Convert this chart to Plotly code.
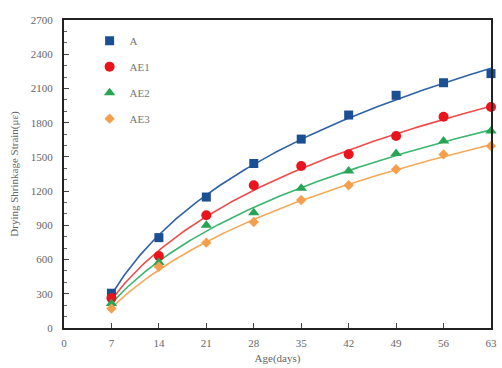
import numpy as np
import plotly.graph_objects as go

age_days = [7, 14, 21, 28, 35, 42, 49, 56, 63]
series_names = ["A", "AE1", "AE2", "AE3"]
strain_A = [305, 792, 1148, 1442, 1656, 1867, 2040, 2150, 2230]
strain_AE1 = [262, 631, 988, 1251, 1420, 1523, 1683, 1852, 1937]
strain_AE2 = [215, 575, 900, 1011, 1225, 1376, 1530, 1640, 1727]
strain_AE3 = [170, 537, 748, 929, 1122, 1251, 1392, 1522, 1595]
x_ticks = [0, 7, 14, 21, 28, 35, 42, 49, 56, 63]
y_ticks = [0, 300, 600, 900, 1200, 1500, 1800, 2100, 2400, 2700]

values = [strain_A, strain_AE1, strain_AE2, strain_AE3]
marker_colors = ["#1b4f93", "#e8141e", "#27a555", "#f2a04e"]
line_colors = ["#2f63a6", "#ef4b4b", "#3cb56e", "#f4aa5c"]
symbols = ["square", "circle", "triangle-up", "diamond"]
sizes = [9, 10, 10, 8]

fig = go.Figure()
t = np.array(age_days, dtype=float)
tt = np.linspace(7, 63, 200)
for name, v, mc, lc, sym, sz in zip(series_names, values, marker_colors, line_colors, symbols, sizes):
    coef = np.polyfit(np.log(t), np.array(v, dtype=float), 2)
    fig.add_trace(go.Scatter(x=tt, y=np.polyval(coef, np.log(tt)), mode="lines",
                             line=dict(color=lc, width=1.6), showlegend=False, hoverinfo="skip"))
for name, v, mc, sym, sz in zip(series_names, values, marker_colors, symbols, sizes):
    fig.add_trace(go.Scatter(x=age_days, y=v, mode="markers", name=name, legendgroup=name,
                             cliponaxis=False,
                             marker=dict(symbol=sym, size=sz, color=mc, line=dict(width=0))))

font = dict(family="Liberation Serif, serif", size=11, color="#666666")
fig.update_layout(
    width=502, height=368,
    margin=dict(l=64, r=5, t=20, b=40),
    plot_bgcolor="white", paper_bgcolor="white",
    font=font,
    showlegend=True,
    legend=dict(x=0.06, y=0.98, xanchor="left", yanchor="top", bgcolor="rgba(0,0,0,0)",
                font=dict(family="Liberation Serif, serif", size=11, color="#777777"),
                tracegroupgap=7, itemwidth=30),
    xaxis=dict(range=[0, 63], tickvals=x_ticks, ticktext=[str(v) for v in x_ticks],
               showgrid=False, zeroline=False, showline=True, linecolor="#222222", linewidth=2,
               mirror=True, ticks="inside", ticklen=5, tickcolor="#444444",
               ticklabelstandoff=4,
               title=dict(text="Age(days)", standoff=6, font=font)),
    yaxis=dict(range=[0, 2700], tickvals=y_ticks, ticktext=[str(v) for v in y_ticks],
               showgrid=False, zeroline=False, showline=True, linecolor="#222222", linewidth=2,
               mirror=True, ticks="inside", ticklen=5, tickcolor="#444444",
               ticklabelstandoff=7,
               minor=dict(dtick=100, ticks="inside", ticklen=3, tickcolor="#666666"),
               title=dict(text="Drying Shrinkage Strain(με)", standoff=10, font=font)),
)
fig.write_html("out.html")
